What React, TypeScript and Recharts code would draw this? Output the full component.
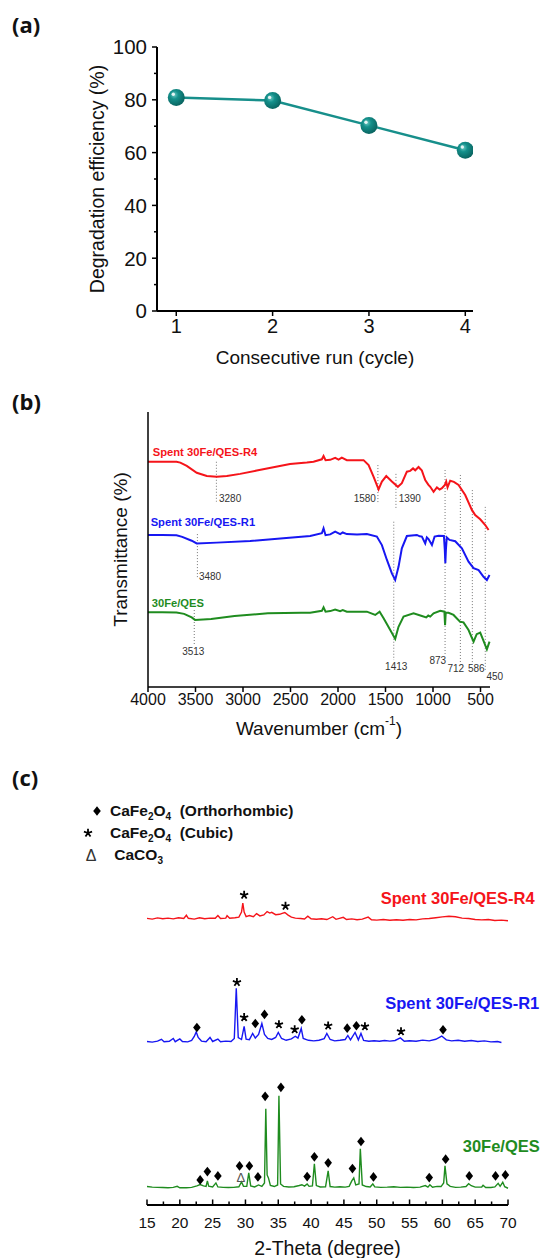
import {
  ComposedChart,
  Legend,
  Line,
  LineChart,
  ReferenceDot,
  ReferenceLine,
  Scatter,
  XAxis,
  YAxis,
} from "recharts"

const FONT = '"Liberation Sans", Arial, Helvetica, sans-serif'

// (a) recycling runs
const runs = [1, 2, 3, 4]
const efficiency = [80.9, 79.7, 70.3, 60.9]
const effTicks = [0, 10, 20, 30, 40, 50, 60, 70, 80, 90, 100]

// (b) FTIR spectra, [wavenumber, transmittance (a.u.)]
const ftirR4: [number, number][] = [
  [4000, 81.9], [3850, 81.9], [3700, 81.9], [3660, 81.6], [3592, 80.4], [3487, 77.9],
  [3381, 76.7], [3276, 76.5], [3170, 76.7], [3030, 77.5], [2855, 78.7], [2680, 79.9],
  [2505, 81.1], [2328, 81.6], [2258, 81.9], [2170, 82.8], [2152, 84.0], [2131, 82.5],
  [2082, 82.6], [2030, 83.3], [1994, 82.7], [1960, 83.4], [1907, 82.5], [1731, 82.5],
  [1678, 80.7], [1626, 76.5], [1573, 71.9], [1538, 74.7], [1492, 76.7], [1433, 74.7],
  [1370, 72.8], [1328, 74.1], [1275, 78.3], [1240, 78.6], [1210, 79.5], [1187, 78.8],
  [1152, 80.0], [1130, 79.2], [1117, 78.7], [1100, 77.0], [1082, 75.3], [1050, 73.6],
  [1029, 72.8], [994, 71.0], [959, 72.6], [930, 71.8], [906, 72.3], [875, 73.5],
  [861, 74.7], [847, 72.6], [819, 75.0], [780, 74.6], [731, 73.5], [661, 69.8],
  [591, 64.4], [556, 62.5], [503, 61.0], [450, 58.9], [415, 57.1],
]
const ftirR1: [number, number][] = [
  [4000, 55.3], [3850, 55.3], [3700, 55.2], [3640, 54.6], [3540, 53.2], [3487, 52.2],
  [3276, 52.5], [2925, 53.1], [2575, 54.1], [2293, 54.9], [2170, 55.9], [2152, 57.7],
  [2131, 55.2], [2082, 55.5], [2030, 56.5], [1977, 55.6], [1950, 56.2], [1907, 55.6],
  [1800, 55.5], [1696, 55.6], [1591, 54.7], [1538, 51.6], [1485, 46.2], [1433, 41.3],
  [1398, 38.9], [1363, 43.7], [1328, 50.4], [1275, 54.9], [1170, 55.3], [1140, 54.8],
  [1117, 54.7], [1082, 52.2], [1065, 54.4], [1047, 53.8], [1011, 51.6], [983, 54.7],
  [941, 55.0], [885, 54.9], [876, 50.0], [870, 45.0], [864, 50.0], [855, 54.4],
  [826, 53.5], [766, 53.0], [696, 50.4], [626, 45.6], [573, 43.2], [520, 42.5],
  [468, 40.1], [433, 38.9], [405, 40.7],
]
const ftirFresh: [number, number][] = [
  [4000, 27.2], [3850, 27.2], [3700, 27.1], [3620, 26.6], [3540, 25.3], [3505, 24.4],
  [3335, 24.7], [3089, 25.8], [2738, 26.8], [2387, 27.0], [2293, 27.0], [2170, 27.7],
  [2152, 29.0], [2131, 27.4], [2082, 27.6], [2030, 28.2], [1977, 27.6], [1950, 28.0],
  [1907, 27.4], [1696, 27.4], [1608, 26.2], [1562, 27.4], [1520, 25.0], [1450, 20.7],
  [1398, 17.5], [1363, 21.9], [1310, 25.6], [1205, 26.8], [1117, 25.8], [1071, 25.3],
  [1050, 26.0], [1029, 25.6], [994, 26.8], [924, 27.7], [880, 27.4], [873, 22.5],
  [866, 27.0], [836, 27.0], [784, 26.2], [714, 23.7], [679, 23.5], [626, 20.7],
  [573, 16.5], [540, 19.2], [503, 19.8], [468, 16.8], [433, 13.7], [405, 16.5],
]
const ftirTicks = [500, 1000, 1500, 2000, 2500, 3000, 3500, 4000]

// marked bands: wavenumber, dotted guide from / to (a.u.)
const bands: [number, number, number][] = [
  [3280, 81.9, 67.4], [1580, 80.7, 66.9], [1390, 77.5, 64.4], [3480, 55.6, 39.6],
  [3513, 28.0, 15.3], [1413, 60.1, 9.8], [873, 78.9, 11.6], [712, 77.1, 8.7],
  [586, 71.6, 8.7], [450, 65.5, 5.5],
]
// where each band number is written (centre of text)
const bandLabelAt: [number, number][] = [
  [3136, 68.6], [1718, 68.7], [1244, 68.4], [3347, 40.1], [3523, 13.1],
  [1387, 7.6], [949, 9.8], [760, 6.8], [544, 6.8], [349, 4.0],
]

// (c) XRD patterns, [2-theta, intensity (a.u.)]
const xrdR4: [number, number][] = [
  [15.0, 285.7], [15.8, 285.0], [16.6, 286.2], [17.4, 285.3], [18.2, 286.0], [19.0, 285.2],
  [19.8, 286.4], [20.6, 285.6], [21.0, 288.8], [21.3, 285.8], [22.2, 285.0], [23.0, 286.3],
  [23.8, 285.4], [24.6, 286.0], [25.4, 285.8], [25.8, 288.6], [26.2, 285.6], [27.0, 286.0],
  [27.2, 288.4], [27.6, 285.8], [28.4, 286.4], [29.0, 287.0], [29.4, 292.0], [29.6, 301.0],
  [29.8, 292.0], [30.1, 287.5], [30.6, 288.5], [31.2, 287.4], [31.7, 290.5], [32.2, 288.2],
  [32.8, 289.2], [33.3, 292.5], [33.7, 291.0], [34.0, 291.8], [34.6, 289.4], [35.2, 289.8],
  [35.6, 290.8], [36.0, 291.6], [36.5, 289.0], [37.0, 287.0], [37.6, 286.0], [38.4, 285.6],
  [39.0, 285.2], [39.5, 288.0], [40.0, 285.4], [40.8, 284.8], [41.6, 285.4], [42.4, 284.6],
  [43.3, 287.4], [43.8, 284.8], [44.9, 286.8], [45.4, 284.6], [46.2, 285.2], [47.0, 284.4],
  [47.8, 285.0], [48.7, 287.0], [49.2, 284.4], [50.0, 284.0], [51.0, 284.6], [52.0, 283.8],
  [53.0, 284.4], [54.0, 283.8], [55.0, 284.6], [56.0, 284.2], [57.0, 285.2], [58.0, 285.6],
  [59.0, 286.4], [60.0, 287.2], [61.0, 287.8], [62.0, 287.4], [63.0, 286.0], [64.0, 285.6],
  [65.0, 284.6], [66.0, 284.2], [67.0, 284.6], [68.0, 283.6], [69.0, 284.0], [70.0, 283.3],
]
const xrdR1: [number, number][] = [
  [15.0, 163.0], [15.8, 162.4], [16.6, 163.4], [17.2, 165.2], [17.6, 162.8], [18.4, 163.2],
  [19.0, 166.0], [19.3, 162.8], [20.0, 165.6], [20.4, 163.0], [21.2, 162.6], [21.8, 164.0],
  [22.2, 168.0], [22.5, 172.5], [22.8, 167.0], [23.3, 163.4], [24.0, 162.8], [24.6, 167.0],
  [25.0, 163.0], [25.8, 165.4], [26.2, 162.8], [27.0, 163.4], [27.8, 163.0], [28.3, 166.0],
  [28.6, 216.0], [28.9, 167.0], [29.4, 165.0], [29.8, 178.0], [30.1, 165.4], [30.6, 164.8],
  [31.1, 171.0], [31.5, 166.5], [32.0, 170.0], [32.5, 181.0], [32.9, 170.0], [33.4, 166.0],
  [34.0, 165.0], [34.6, 167.0], [35.0, 172.0], [35.5, 166.0], [36.2, 164.2], [37.0, 165.6],
  [37.6, 168.2], [38.0, 166.4], [38.5, 176.0], [38.8, 166.0], [39.6, 164.2], [40.4, 163.6],
  [41.2, 164.2], [42.0, 165.8], [42.4, 171.0], [42.9, 165.0], [43.6, 163.6], [44.4, 164.2],
  [45.2, 165.0], [45.6, 169.0], [46.0, 164.6], [46.7, 172.0], [47.2, 164.6], [47.6, 171.0],
  [48.0, 164.0], [48.8, 163.2], [49.6, 163.8], [50.4, 163.2], [51.2, 164.0], [52.0, 163.4],
  [52.8, 164.0], [53.6, 166.6], [54.2, 163.2], [55.0, 163.8], [56.0, 163.2], [57.0, 164.4],
  [58.0, 163.6], [59.0, 165.2], [59.9, 168.4], [60.6, 164.6], [61.4, 163.6], [62.4, 164.2],
  [63.4, 163.2], [64.4, 164.0], [65.4, 163.0], [66.4, 163.6], [67.4, 162.6], [68.4, 163.0],
  [69.0, 162.0],
]
const xrdFresh: [number, number][] = [
  [15.0, 18.4], [15.8, 17.8], [16.6, 17.6], [17.4, 17.4], [18.2, 17.2], [19.0, 17.6],
  [19.6, 18.6], [20.0, 17.2], [21.0, 17.2], [21.8, 17.6], [22.6, 19.0], [23.1, 20.4],
  [23.6, 19.0], [24.0, 18.6], [24.2, 24.0], [24.4, 18.8], [25.0, 18.0], [25.5, 22.0],
  [25.8, 18.0], [26.6, 17.6], [27.4, 17.4], [28.2, 17.6], [29.0, 18.2], [29.4, 23.0],
  [29.7, 18.6], [30.2, 18.6], [30.5, 32.0], [30.8, 19.0], [31.4, 18.0], [32.0, 20.0],
  [32.5, 18.6], [32.9, 22.0], [33.1, 96.0], [33.3, 30.0], [33.5, 27.0], [33.8, 19.5],
  [34.4, 18.4], [34.9, 20.0], [35.1, 109.0], [35.35, 21.0], [35.8, 18.6], [36.6, 18.0],
  [37.4, 18.2], [38.2, 19.4], [38.6, 20.2], [39.0, 18.8], [39.4, 21.0], [39.7, 18.6],
  [40.2, 19.0], [40.5, 41.0], [40.8, 19.4], [41.4, 18.0], [42.2, 18.2], [42.6, 34.0],
  [42.9, 18.4], [43.6, 17.8], [44.4, 18.2], [45.2, 17.8], [45.8, 18.6], [46.2, 24.0],
  [46.5, 27.0], [46.8, 20.0], [47.3, 21.0], [47.5, 56.0], [47.8, 20.0], [48.4, 18.4],
  [49.0, 18.0], [49.4, 21.0], [49.7, 18.0], [50.6, 17.6], [51.6, 17.8], [52.6, 18.2],
  [53.6, 17.6], [54.6, 17.8], [55.6, 17.4], [56.6, 17.8], [57.4, 19.4], [57.8, 17.8],
  [58.1, 20.2], [58.5, 17.8], [59.2, 18.6], [59.8, 18.4], [60.2, 22.0], [60.4, 39.0],
  [60.7, 21.0], [61.2, 18.6], [62.0, 17.6], [62.8, 17.8], [63.6, 18.4], [64.0, 21.2],
  [64.4, 19.2], [65.0, 17.8], [66.0, 18.0], [66.2, 19.6], [66.6, 17.4], [67.4, 17.4],
  [68.0, 18.0], [68.5, 21.6], [68.8, 18.6], [69.2, 22.6], [69.5, 18.2], [70.0, 16.7],
]
const thetaTicks = [
  15, 17.5, 20, 22.5, 25, 27.5, 30, 32.5, 35, 37.5, 40, 42.5, 45, 47.5, 50, 52.5, 55,
  57.5, 60, 62.5, 65, 67.5, 70,
]

// phase markers placed over the reflections
const orthorhombicMarks: [number, number][] = [
  [22.6, 177], [31.5, 181], [32.9, 190], [38.6, 184.7], [45.5, 176.3], [46.9, 178.7],
  [60.1, 174.7], [23.1, 25], [24.2, 33.3], [25.8, 29], [29.1, 39], [30.6, 39], [31.9, 28],
  [33.0, 108.3], [35.4, 117.3], [39.4, 28.3], [40.5, 48], [42.6, 42], [46.3, 36.3],
  [47.6, 63.3], [49.5, 28], [58.0, 27.3], [60.5, 45.7], [64.1, 29], [68.1, 29], [69.6, 30],
]
const cubicMarks: [number, number][] = [
  [29.8, 309], [36.1, 298], [28.7, 222], [29.8, 187], [35.1, 180], [37.5, 175],
  [42.6, 178.7], [48.2, 178], [53.7, 173],
]
const carbonateMarks: [number, number][] = [[29.3, 27.3]]

const RED = "#f5141a"
const BLUE = "#1717f2"
const GREEN = "#1f8c1f"
const TEAL = "#178f8b"

const toFtir = (rows: [number, number][]) => rows.map(([w, t]) => ({ w, t }))
const toXrd = (rows: [number, number][]) => rows.map(([theta, counts]) => ({ theta, counts }))

function BallDot(props: any) {
  const { cx, cy } = props
  if (cx == null || cy == null) return null
  return (
    <g>
      <circle cx={cx} cy={cy} r={8.5} fill="url(#ball)" />
      <circle cx={cx - 3} cy={cy - 3.2} r={1.7} fill="#fff" opacity={0.85} />
    </g>
  )
}

function EffTick(props: any) {
  const { x, y, payload } = props
  const major = payload.value % 20 === 0
  const axisX = x + 10
  return (
    <g>
      <line x1={axisX - (major ? 5 : 3)} x2={axisX} y1={y} y2={y} stroke="#000" strokeWidth={1.5} />
      {major && (
        <text x={x} y={y} dy="0.36em" textAnchor="end" fontSize={20.5} fill="#111">
          {payload.value}
        </text>
      )}
    </g>
  )
}

function ThetaTick(props: any) {
  const { x, y, payload } = props
  if (payload.value % 5 !== 0) return <g />
  return (
    <text x={x} y={y} dy="0.71em" textAnchor="middle" fontSize={15.5} fill="#111">
      {payload.value}
    </text>
  )
}

function DiamondMark(props: any) {
  const { cx, cy } = props
  return <path d={`M${cx},${cy - 4.8}L${cx + 3.8},${cy}L${cx},${cy + 4.8}L${cx - 3.8},${cy}Z`} fill="#000" />
}

function StarMark(props: any) {
  const { cx, cy } = props
  const arms = [-90, -18, 54, 126, 198]
    .map((a) => {
      const r = (a * Math.PI) / 180
      return `M${cx},${cy}L${cx + 4.3 * Math.cos(r)},${cy + 4.3 * Math.sin(r)}`
    })
    .join("")
  return <path d={arms} stroke="#000" strokeWidth={1.8} fill="none" />
}

function DeltaMark(props: any) {
  const { cx, cy } = props
  return (
    <text x={cx} y={cy} dy="0.36em" textAnchor="middle" fontSize={13} fill="#555">
      Δ
    </text>
  )
}

const rotatedTitle = (text: string, cx: number, size: number) => (props: any) => {
  const vb = props.viewBox
  const cy = vb.y + vb.height / 2
  return (
    <text
      x={cx}
      y={cy}
      transform={`rotate(-90 ${cx} ${cy})`}
      textAnchor="middle"
      dominantBaseline="central"
      fontSize={size}
      fill="#111"
    >
      {text}
    </text>
  )
}

const bottomTitle = (content: React.ReactNode, dy: number, size: number) => (props: any) => {
  const vb = props.viewBox
  return (
    <text
      x={vb.x + vb.width / 2}
      y={vb.y + dy}
      textAnchor="middle"
      dominantBaseline="central"
      fontSize={size}
      fill="#111"
    >
      {content}
    </text>
  )
}

function EfficiencyChart() {
  const data = runs.map((run, i) => ({ run, eff: efficiency[i] }))
  return (
    <LineChart width={543} height={380} data={data} margin={{ top: 47, right: 70, bottom: 0, left: 0 }}>
      <defs>
        <radialGradient id="ball" cx="38%" cy="35%" r="70%">
          <stop offset="0%" stopColor="#6cc9c3" />
          <stop offset="35%" stopColor="#14908b" />
          <stop offset="100%" stopColor="#08605c" />
        </radialGradient>
      </defs>
      <XAxis
        type="number"
        dataKey="run"
        domain={[0.8, 4.08]}
        ticks={runs}
        allowDataOverflow
        height={69}
        tickSize={5}
        tickMargin={3}
        axisLine={{ stroke: "#000", strokeWidth: 2 }}
        tickLine={{ stroke: "#000", strokeWidth: 1.5 }}
        tick={{ fill: "#111", fontSize: 20 }}
        label={bottomTitle("Consecutive run (cycle)", 46, 19)}
      />
      <YAxis
        type="number"
        domain={[0, 100]}
        ticks={effTicks}
        width={157}
        tickSize={5}
        tickMargin={5}
        tickLine={false}
        axisLine={{ stroke: "#000", strokeWidth: 2 }}
        tick={<EffTick />}
        label={rotatedTitle("Degradation efficiency (%)", 97, 19.5)}
      />
      <Line
        type="linear"
        dataKey="eff"
        stroke={TEAL}
        strokeWidth={2.5}
        dot={<BallDot />}
        isAnimationActive={false}
      />
    </LineChart>
  )
}

function FtirChart() {
  const seriesLabel = { fontSize: 11.2, fontWeight: 700, position: "right" as const, offset: 0 }
  const bandText = { fontSize: 10, fill: "#333", position: "center" as const }
  return (
    <LineChart width={543} height={360} margin={{ top: 32, right: 53, bottom: 0, left: 0 }}>
      <XAxis
        type="number"
        dataKey="w"
        domain={[400, 4000]}
        reversed
        ticks={ftirTicks}
        height={53}
        tickSize={5}
        tickMargin={2}
        axisLine={{ stroke: "#000", strokeWidth: 1.5 }}
        tickLine={{ stroke: "#000", strokeWidth: 1.5 }}
        tick={{ fill: "#111", fontSize: 16 }}
        label={bottomTitle(
          <>
            Wavenumber (cm
            <tspan dy={-7} fontSize={12}>
              -1
            </tspan>
            <tspan dy={7}>)</tspan>
          </>,
          41,
          19
        )}
      />
      <YAxis
        type="number"
        domain={[0, 100]}
        width={148}
        tick={false}
        tickLine={false}
        axisLine={{ stroke: "#000", strokeWidth: 1.5 }}
        label={rotatedTitle("Transmittance (%)", 120, 19)}
      />
      {bands.map(([w, from, to]) => (
        <ReferenceLine
          key={`band-${w}`}
          segment={[
            { x: w, y: from },
            { x: w, y: to },
          ]}
          stroke="#777"
          strokeWidth={1}
          strokeDasharray="1 2"
        />
      ))}
      {bands.map(([w], i) => (
        <ReferenceDot
          key={`band-label-${w}`}
          x={bandLabelAt[i][0]}
          y={bandLabelAt[i][1]}
          r={0}
          fill="none"
          stroke="none"
          ifOverflow="visible"
          label={{ ...bandText, value: String(w) }}
        />
      ))}
      <Line data={toFtir(ftirR4)} dataKey="t" type="linear" stroke={RED} strokeWidth={2} dot={false} isAnimationActive={false} />
      <Line data={toFtir(ftirR1)} dataKey="t" type="linear" stroke={BLUE} strokeWidth={2} dot={false} isAnimationActive={false} />
      <Line data={toFtir(ftirFresh)} dataKey="t" type="linear" stroke={GREEN} strokeWidth={2} dot={false} isAnimationActive={false} />
      <ReferenceDot x={3950} y={85.6} r={0} fill="none" stroke="none" label={{ ...seriesLabel, fill: RED, value: "Spent 30Fe/QES-R4" }} />
      <ReferenceDot x={3972} y={60.1} r={0} fill="none" stroke="none" label={{ ...seriesLabel, fill: BLUE, value: "Spent 30Fe/QES-R1" }} />
      <ReferenceDot x={3961} y={30.7} r={0} fill="none" stroke="none" label={{ ...seriesLabel, fill: GREEN, value: "30Fe/QES" }} />
    </LineChart>
  )
}

function Sub({ children }: { children: React.ReactNode }) {
  return <span style={{ fontSize: 10, position: "relative", top: 4 }}>{children}</span>
}

function PhaseLegend() {
  const row = { display: "flex", alignItems: "center", height: 22 }
  return (
    <div style={{ fontFamily: FONT, fontWeight: 700, fontSize: 15.5, color: "#111", whiteSpace: "nowrap" }}>
      <div style={row}>
        <svg width={28} height={14}>
          <DiamondMark cx={15} cy={7} />
        </svg>
        <span>
          CaFe<Sub>2</Sub>O<Sub>4</Sub>&nbsp;&nbsp;(Orthorhombic)
        </span>
      </div>
      <div style={row}>
        <svg width={28} height={14}>
          <StarMark cx={6} cy={7} />
        </svg>
        <span>
          CaFe<Sub>2</Sub>O<Sub>4</Sub>&nbsp;&nbsp;(Cubic)
        </span>
      </div>
      <div style={row}>
        <svg width={28} height={16}>
          <text x={9} y={8} dy="0.36em" textAnchor="middle" fontSize={16} fontWeight={400} fill="#333">
            Δ
          </text>
        </svg>
        <span>
          &nbsp;CaCO<Sub>3</Sub>
        </span>
      </div>
    </div>
  )
}

function XrdChart() {
  const seriesLabel = { fontSize: 16.5, fontWeight: 700, position: "right" as const, offset: 0 }
  return (
    <ComposedChart width={543} height={498} margin={{ top: 124, right: 35, bottom: 0, left: 147 }}>
      <XAxis
        type="number"
        dataKey="theta"
        domain={[15, 70]}
        ticks={thetaTicks}
        height={53}
        tickSize={0}
        tickMargin={12}
        tickLine={false}
        axisLine={{ stroke: "#000", strokeWidth: 1.8 }}
        tick={<ThetaTick />}
        label={bottomTitle("2-Theta (degree)", 43, 19.5)}
      />
      <YAxis type="number" dataKey="counts" domain={[0, 320]} hide />
      {/* inward tick marks on the 2-theta axis (5 units = 5 px) */}
      {thetaTicks.map((t) => (
        <ReferenceLine
          key={`tick-${t}`}
          segment={[
            { x: t, y: 0 },
            { x: t, y: t % 5 === 0 ? 5.5 : 3.5 },
          ]}
          stroke="#000"
          strokeWidth={1.5}
          ifOverflow="visible"
        />
      ))}
      <Legend
        layout="vertical"
        align="center"
        verticalAlign="middle"
        content={() => <PhaseLegend />}
        wrapperStyle={{ top: 40, left: 82, width: 280 }}
      />
      <Line data={toXrd(xrdR4)} dataKey="counts" type="linear" stroke={RED} strokeWidth={1.4} dot={false} isAnimationActive={false} />
      <Line data={toXrd(xrdR1)} dataKey="counts" type="linear" stroke={BLUE} strokeWidth={1.4} dot={false} isAnimationActive={false} />
      <Line data={toXrd(xrdFresh)} dataKey="counts" type="linear" stroke={GREEN} strokeWidth={1.4} dot={false} isAnimationActive={false} />
      <Scatter data={toXrd(orthorhombicMarks)} dataKey="counts" shape={<DiamondMark />} isAnimationActive={false} />
      <Scatter data={toXrd(cubicMarks)} dataKey="counts" shape={<StarMark />} isAnimationActive={false} />
      <Scatter data={toXrd(carbonateMarks)} dataKey="counts" shape={<DeltaMark />} isAnimationActive={false} />
      <ReferenceDot x={50.6} y={306} r={0} fill="none" stroke="none" ifOverflow="visible" label={{ ...seriesLabel, fill: RED, value: "Spent 30Fe/QES-R4" }} />
      <ReferenceDot x={51.3} y={201} r={0} fill="none" stroke="none" ifOverflow="visible" label={{ ...seriesLabel, fill: BLUE, value: "Spent 30Fe/QES-R1" }} />
      <ReferenceDot x={63.1} y={59} r={0} fill="none" stroke="none" ifOverflow="visible" label={{ ...seriesLabel, fill: GREEN, value: "30Fe/QES" }} />
    </ComposedChart>
  )
}

const panelTag = (top: number): React.CSSProperties => ({
  position: "absolute",
  left: 12,
  top,
  fontFamily: '"Open Sans", "Liberation Sans", sans-serif',
  fontWeight: 700,
  fontSize: 22,
  lineHeight: "22px",
  color: "#111",
})

export default function App() {
  return (
    <div
      style={{
        position: "absolute",
        left: 0,
        top: 0,
        width: 543,
        height: 1258,
        background: "#fff",
        fontFamily: FONT,
        overflow: "hidden",
      }}
    >
      <div style={{ position: "absolute", left: 0, top: 0 }}>
        <EfficiencyChart />
      </div>
      <div style={{ position: "absolute", left: 0, top: 380 }}>
        <FtirChart />
      </div>
      <div style={{ position: "absolute", left: 0, top: 760 }}>
        <XrdChart />
      </div>
      <div style={panelTag(13)}>(a)</div>
      <div style={panelTag(390)}>(b)</div>
      <div style={panelTag(766)}>(c)</div>
    </div>
  )
}
